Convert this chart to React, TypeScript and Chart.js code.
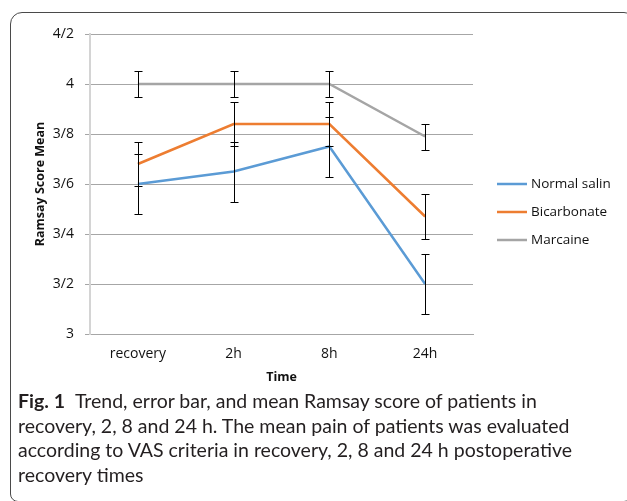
import React, { useEffect, useRef } from "react";
import { Chart, registerables } from "chart.js";

Chart.register(...registerables);

const categories = ["recovery", "2h", "8h", "24h"];
const seriesNames = ["Normal salin", "Bicarbonate", "Marcaine"];
const normalSalin = [3.6, 3.65, 3.75, 3.2];
const bicarbonate = [3.68, 3.84, 3.84, 3.47];
const marcaine = [4.0, 4.0, 4.0, 3.79];
const normalSalinErr = [0.12, 0.12, 0.12, 0.12];
const bicarbonateErr = [0.087, 0.087, 0.087, 0.088];
const marcaineErr = [0.052, 0.052, 0.052, 0.052];
const yTickLabels = ["3", "3/2", "3/4", "3/6", "3/8", "4", "4/2"];
const seriesColors = ["#5B9BD5", "#ED7D31", "#A5A5A5"];

const captionLines = [
  "Trend, error bar, and mean Ramsay score of patients in",
  "recovery, 2, 8 and 24 h. The mean pain of patients was evaluated",
  "according to VAS criteria in recovery, 2, 8 and 24 h postoperative",
  "recovery times",
];

const CHART_FONT = "'Open Sans', sans-serif";

const errorBarPlugin = {
  id: "errorBars",
  afterDatasetsDraw(chart: any) {
    const ctx = chart.ctx;
    const xs = chart.scales.x;
    const ys = chart.scales.y;
    ctx.save();
    ctx.strokeStyle = "#000";
    ctx.lineWidth = 1;
    chart.data.datasets.forEach((ds: any) => {
      const errs: number[] = ds.errors || [];
      ds.data.forEach((v: number, i: number) => {
        const e = errs[i];
        if (e == null) return;
        const x = Math.round(xs.getPixelForValue(i)) + 0.5;
        const yt = Math.round(ys.getPixelForValue(v + e)) + 0.5;
        const yb = Math.round(ys.getPixelForValue(v - e)) + 0.5;
        ctx.beginPath();
        ctx.moveTo(x, yt);
        ctx.lineTo(x, yb);
        ctx.moveTo(x - 4, yt);
        ctx.lineTo(x + 4, yt);
        ctx.moveTo(x - 4, yb);
        ctx.lineTo(x + 4, yb);
        ctx.stroke();
      });
    });
    ctx.restore();
  },
};

const legendPlugin = {
  id: "sideLegend",
  afterDraw(chart: any) {
    const ctx = chart.ctx;
    const area = chart.chartArea;
    const cy = (area.top + area.bottom) / 2;
    ctx.save();
    ctx.font = `13.5px ${CHART_FONT}`;
    ctx.textBaseline = "middle";
    ctx.fillStyle = "#111";
    chart.data.datasets.forEach((ds: any, i: number) => {
      const y = Math.round(cy + i * 28);
      const x0 = area.right + 24;
      ctx.strokeStyle = ds.borderColor;
      ctx.lineWidth = 2.5;
      ctx.beginPath();
      ctx.moveTo(x0, y);
      ctx.lineTo(x0 + 30, y);
      ctx.stroke();
      ctx.fillText(ds.label, x0 + 34, y);
    });
    ctx.restore();
  },
};

function ChartCanvas() {
  const ref = useRef<HTMLCanvasElement | null>(null);
  useEffect(() => {
    if (!ref.current) return;
    const values = [normalSalin, bicarbonate, marcaine];
    const errs = [normalSalinErr, bicarbonateErr, marcaineErr];
    const chart = new Chart(ref.current, {
      type: "line",
      data: {
        labels: categories,
        datasets: seriesNames.map((name, i) => ({
          label: name,
          data: values[i],
          errors: errs[i],
          borderColor: seriesColors[i],
          backgroundColor: seriesColors[i],
          borderWidth: 2.5,
          pointRadius: 0,
          tension: 0,
          fill: false,
        })) as any,
      },
      options: {
        responsive: false,
        animation: false,
        devicePixelRatio: 1,
        layout: { padding: { top: 34, right: 154, left: 0, bottom: 0 } },
        plugins: {
          legend: { display: false },
          tooltip: { enabled: false },
        },
        scales: {
          x: {
            type: "category",
            offset: true,
            grid: { display: false, drawTicks: false },
            border: { display: true, color: "#a6a6a6", width: 1 },
            ticks: {
              padding: 12,
              color: "#111",
              font: { family: CHART_FONT, size: 14 },
            },
            title: {
              display: true,
              text: "Time",
              color: "#111",
              font: { family: CHART_FONT, size: 12.5, weight: "bold" },
              padding: { top: 0, bottom: 7 },
            },
            afterFit: (s: any) => {
              s.height = 58;
            },
          },
          y: {
            min: 3,
            max: 4.2,
            ticks: {
              stepSize: 0.2,
              padding: 11,
              color: "#111",
              font: { family: CHART_FONT, size: 14 },
              callback: (_v: any, idx: number) => yTickLabels[idx],
            },
            grid: { color: "#a6a6a6", lineWidth: 1, drawTicks: true, tickLength: 5 },
            border: { display: true, color: "#d4d4d4", width: 2 },
            title: {
              display: true,
              text: "Ramsay Score Mean",
              color: "#111",
              font: { family: CHART_FONT, size: 12.5, weight: "bold" },
              padding: { top: 33, bottom: 0 },
            },
            afterFit: (s: any) => {
              s.width = 90;
            },
          },
        },
      } as any,
      plugins: [errorBarPlugin, legendPlugin],
    });
    return () => chart.destroy();
  }, []);
  return (
    <canvas
      ref={ref}
      width={627}
      height={392}
      style={{ position: "absolute", left: 0, top: 0, width: 627, height: 392 }}
    />
  );
}

export default function App() {
  return (
    <div
      style={{
        position: "fixed",
        left: 0,
        top: 0,
        width: 627,
        height: 501,
        overflow: "hidden",
        background: "#fff",
      }}
    >
      <div
        style={{
          position: "absolute",
          left: 10,
          top: 12,
          width: 622,
          height: 490,
          border: "1px solid #4a4a4a",
          borderRadius: "12px 8px 8px 8px",
          boxSizing: "border-box",
        }}
      />
      <ChartCanvas />
      <div
        style={{
          position: "absolute",
          left: 18,
          top: 389,
          fontFamily: "Lato, sans-serif",
          fontSize: 19.5,
          lineHeight: "24.5px",
          color: "#231f20",
          whiteSpace: "nowrap",
        }}
      >
        {captionLines.map((line, i) => (
          <div key={i}>
            {i === 0 ? (
              <span style={{ fontWeight: "bold", marginRight: 10 }}>Fig. 1</span>
            ) : null}
            {line}
          </div>
        ))}
      </div>
    </div>
  );
}
